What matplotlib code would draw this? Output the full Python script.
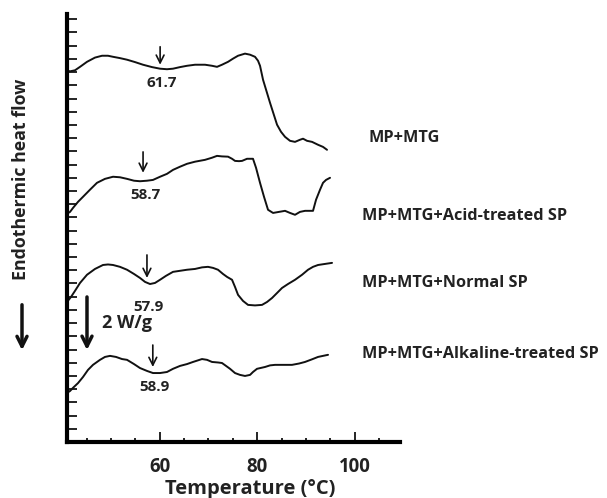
import numpy as np
import matplotlib
matplotlib.use("Agg")
import matplotlib.pyplot as plt
from matplotlib.patches import FancyArrowPatch

plt.rcParams['font.family'] = ['Open Sans', 'DejaVu Sans']
plt.rcParams['font.weight'] = 'bold'

# Temperature (°C) and heat flow (W/g, stacked offsets)
T_mtg = [40.79, 41.62, 42.64, 43.67, 45.10, 46.74, 48.18, 49.41, 50.44, 51.87, 53.31, 54.95, 56.59,
         58.44, 60.08, 61.51, 62.74, 64.18, 65.62, 67.26, 69.31, 70.74, 71.77, 72.79, 74.03, 75.05,
         76.08, 77.51, 78.54, 79.56, 80.18, 80.59, 81.21, 82.64, 84.08, 84.90, 85.72, 86.74, 87.77,
         88.79, 89.41, 90.23, 91.26, 92.49, 93.51, 94.33]
H_mtg = [14.07, 14.03, 14.07, 14.20, 14.39, 14.55, 14.62, 14.62, 14.58, 14.53, 14.47, 14.38, 14.28,
         14.19, 14.13, 14.11, 14.13, 14.19, 14.24, 14.28, 14.28, 14.24, 14.20, 14.28, 14.39, 14.51,
         14.62, 14.70, 14.66, 14.58, 14.43, 14.24, 13.71, 12.84, 12.01, 11.74, 11.55, 11.40, 11.36,
         11.44, 11.48, 11.40, 11.36, 11.25, 11.17, 11.06]

T_acid = [41.00, 41.62, 42.23, 43.26, 44.28, 45.72, 47.15, 48.79, 50.44, 51.87, 53.31, 54.74, 55.97,
          57.41, 58.64, 60.08, 61.51, 62.74, 64.18, 65.62, 67.26, 69.31, 70.74, 71.77, 72.79, 74.03,
          74.85, 75.46, 76.28, 76.90, 77.92, 79.15, 79.77, 80.59, 81.41, 82.23, 83.26, 84.49, 85.72,
          86.74, 87.77, 88.79, 89.82, 91.46, 92.08, 92.90, 93.51, 94.13, 94.95]
H_acid = [8.64, 8.71, 8.86, 9.09, 9.28, 9.55, 9.81, 9.96, 10.04, 10.02, 9.96, 9.89, 9.87,
          9.89, 9.92, 10.04, 10.15, 10.30, 10.42, 10.53, 10.61, 10.68, 10.76, 10.83, 10.81, 10.80,
          10.72, 10.64, 10.63, 10.64, 10.72, 10.72, 10.38, 9.81, 9.28, 8.79, 8.67, 8.71, 8.75,
          8.67, 8.60, 8.71, 8.75, 8.75, 9.17, 9.55, 9.81, 9.92, 10.00]

T_norm = [41.00, 41.82, 42.64, 43.67, 45.10, 46.74, 48.38, 49.41, 50.44, 51.87, 53.31, 54.74, 55.97,
          57.00, 58.03, 59.05, 60.08, 61.31, 62.74, 64.18, 65.62, 67.26, 68.69, 69.92, 70.95, 71.97,
          73.00, 73.82, 74.85, 75.46, 76.08, 77.10, 78.13, 79.56, 81.00, 82.03, 83.05, 84.08, 85.10,
          86.33, 87.77, 89.21, 90.44, 91.46, 92.49, 93.92, 95.36]
H_norm = [5.30, 5.49, 5.72, 6.02, 6.33, 6.55, 6.70, 6.72, 6.70, 6.63, 6.52, 6.36, 6.21,
          6.06, 5.98, 6.02, 6.14, 6.29, 6.44, 6.48, 6.52, 6.55, 6.61, 6.63, 6.59, 6.52,
          6.36, 6.25, 6.14, 5.87, 5.57, 5.34, 5.19, 5.17, 5.19, 5.30, 5.45, 5.64, 5.83,
          5.98, 6.14, 6.33, 6.52, 6.63, 6.70, 6.74, 6.78]

T_alk = [41.00, 41.62, 42.23, 43.26, 44.28, 45.31, 46.33, 47.77, 48.79, 49.82, 51.05, 52.28, 53.31,
         54.74, 55.97, 57.41, 58.64, 60.08, 61.51, 62.74, 64.18, 65.62, 66.85, 68.69, 69.72, 70.74,
         71.97, 72.79, 73.62, 74.44, 75.46, 76.49, 77.51, 78.54, 79.15, 79.97, 81.62, 82.64, 83.67,
         85.72, 87.15, 88.59, 89.82, 91.26, 92.49, 93.51, 94.54]
H_alk = [1.86, 1.93, 2.05, 2.23, 2.46, 2.73, 2.92, 3.11, 3.22, 3.26, 3.22, 3.14, 3.11,
         2.95, 2.80, 2.69, 2.61, 2.61, 2.65, 2.77, 2.88, 2.95, 3.03, 3.14, 3.11, 3.03,
         3.01, 2.99, 2.88, 2.77, 2.61, 2.54, 2.50, 2.54, 2.65, 2.77, 2.84, 2.90, 2.92,
         2.92, 2.92, 2.97, 3.03, 3.13, 3.22, 3.26, 3.30]

series_labels = ["MP+MTG", "MP+MTG+Acid-treated SP", "MP+MTG+Normal SP", "MP+MTG+Alkaline-treated SP"]
peak_labels = ["61.7", "58.7", "57.9", "58.9"]
# arrow x position, arrow top, arrow tip, label y
peak_T = [60.1, 56.6, 57.4, 58.6]
peak_top = [14.96, 10.98, 7.08, 3.67]
peak_tip = [14.28, 10.19, 6.21, 2.84]
peak_lab_y = [13.6, 9.36, 5.11, 2.08]

xticks_major = [60, 80, 100]

fig = plt.figure(figsize=(6.07, 4.98), dpi=100)
ax = fig.add_axes([67/607, 56/498, 333/607, 428/498])

for T, H in [(T_mtg, H_mtg), (T_acid, H_acid), (T_norm, H_norm), (T_alk, H_alk)]:
    ax.plot(T, H, color='#111111', lw=1.4, solid_joinstyle='round', solid_capstyle='round')

ax.set_xlim(41, 109.3)
ax.set_ylim(0, 16.2)

for s in ['top', 'right']:
    ax.spines[s].set_visible(False)
for s in ['left', 'bottom']:
    ax.spines[s].set_linewidth(3)

ax.set_xticks(xticks_major)
ax.set_xticklabels([str(v) for v in xticks_major], fontsize=13.4, fontweight='bold', color='#222222')
ax.set_xticks(np.arange(45, 109, 5), minor=True)
ax.tick_params(axis='x', which='major', direction='in', length=7, width=1.2, pad=11)
ax.tick_params(axis='x', which='minor', direction='in', length=3, width=1.2)
ax.set_yticks(np.arange(0.5, 16.1, 0.5))
ax.set_yticklabels([])
ax.tick_params(axis='y', which='major', direction='in', length=7, width=1.2)

for x, yt, yp, yl, lab in zip(peak_T, peak_top, peak_tip, peak_lab_y, peak_labels):
    ax.annotate('', xy=(x, yp), xytext=(x, yt),
                arrowprops=dict(arrowstyle='->', lw=1.2, color='#111111', mutation_scale=14,
                                shrinkA=0, shrinkB=0))
    ax.text(x + 0.4, yl, lab, ha='center', va='center', fontsize=11, fontweight='bold', color='#222222')

# scale bar 2 W/g
ax.annotate('', xy=(45.1, 3.48), xytext=(45.1, 5.49),
            arrowprops=dict(arrowstyle='->', lw=2.5, color='#111111', mutation_scale=18,
                            shrinkA=0, shrinkB=0))
ax.text(48.2, 4.5, '2 W/g', ha='left', va='center', fontsize=13, fontweight='bold', color='#222222')

fig.text(250/607, 1 - 489/498, 'Temperature (°C)', ha='center', va='center',
         fontsize=14.5, fontweight='bold', color='#222222')

fig.text(21/607, 1 - 179/498, 'Endothermic heat flow', rotation=90, ha='center', va='center',
         fontsize=12.8, fontweight='bold', color='#222222')
fig.patches.append(FancyArrowPatch((22/607, 1 - 302/498), (22/607, 1 - 353/498),
                   transform=fig.transFigure, arrowstyle='->', lw=2.5, color='#111111',
                   mutation_scale=18))

lab_pos = [(368, 138), (362, 216), (362, 283), (362, 354)]
for (px, py), lab in zip(lab_pos, series_labels):
    fig.text(px/607, 1 - py/498, lab, ha='left', va='center', fontsize=11.7, fontweight='bold',
             color='#222222')

fig.savefig('out.png', dpi=100)
